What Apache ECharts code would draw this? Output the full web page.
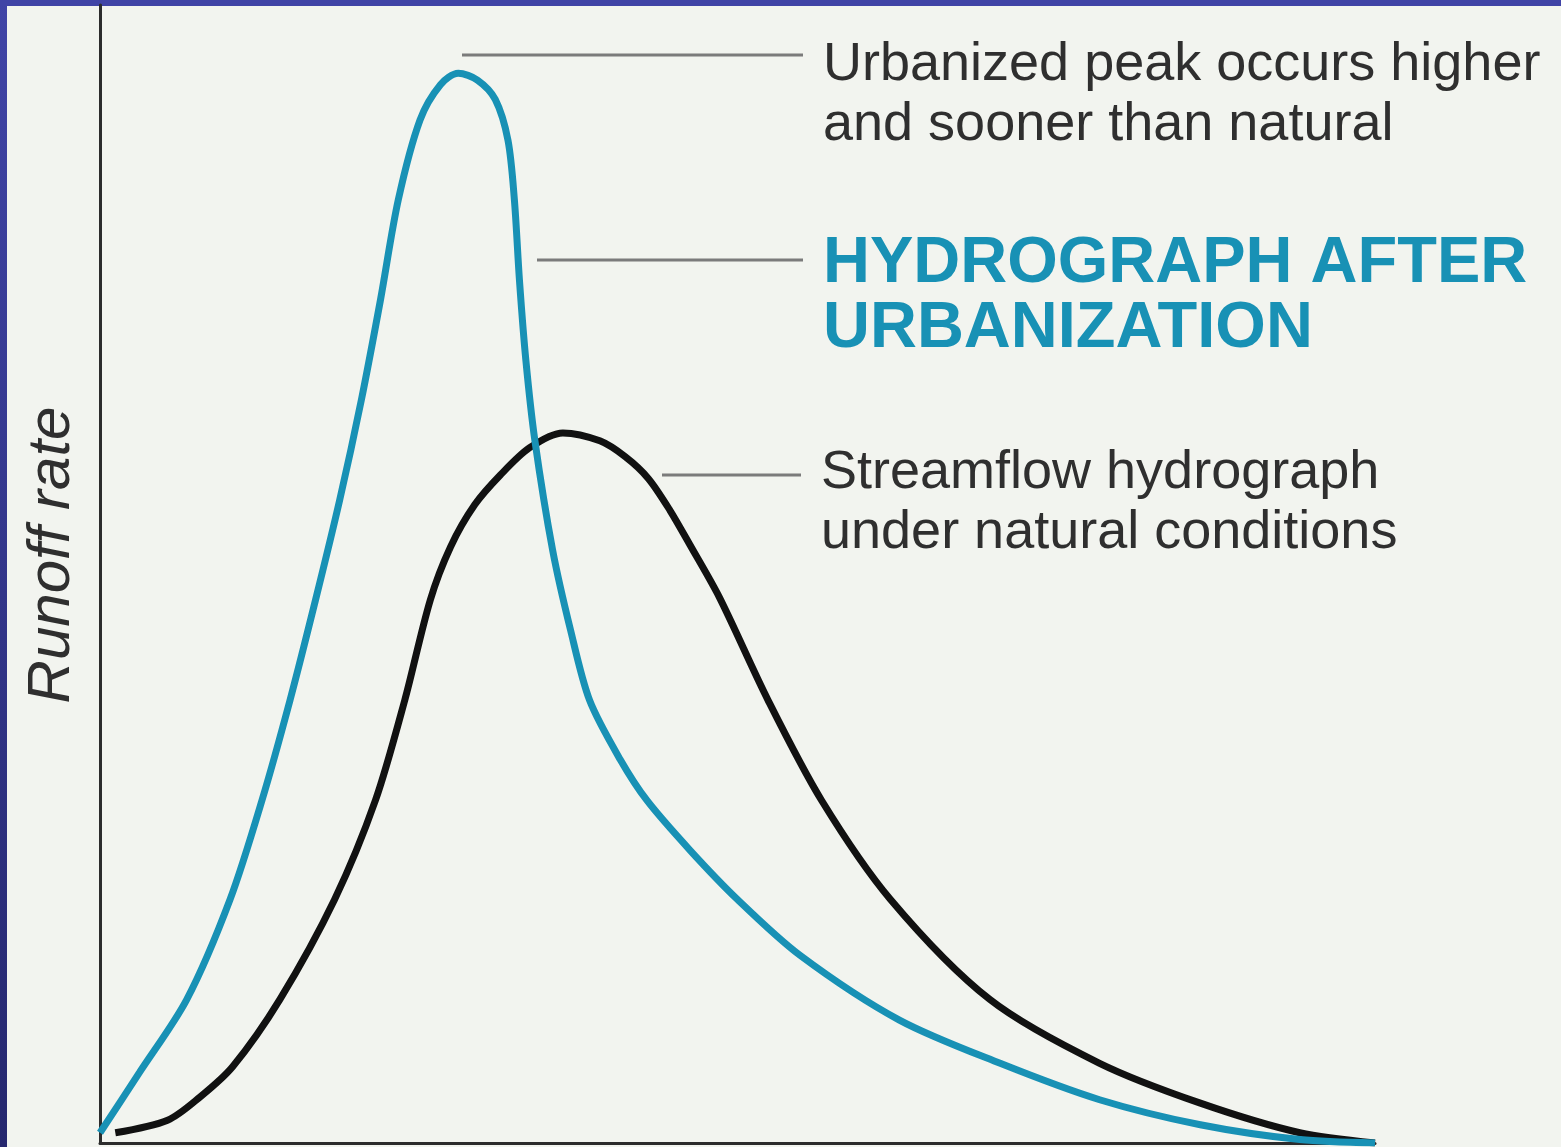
<!DOCTYPE html>
<html>
<head>
<meta charset="utf-8">
<title>Hydrograph after urbanization</title>
<script src="https://cdn.jsdelivr.net/npm/echarts@6/dist/echarts.min.js"></script>
<style>
  html, body { margin: 0; padding: 0; background: #f2f4ef; }
  #chart { width: 1561px; height: 1147px; }
</style>
</head>
<body>
<div id="chart"></div>
<script>
// time (0-100) and runoff rate (0-100)
const timeUrban = [0, 3.1, 6.8, 10.2, 12.7, 14.9, 16.9, 18.8, 20.5, 22.0, 23.4, 25.1, 26.7, 28.1, 29.6, 31.0, 32.0, 32.5, 32.9, 33.4, 34.1, 35.5, 36.9, 38.4, 40.8, 42.9, 46.3, 50.0, 54.9, 62.7, 70.6, 78.4, 86.3, 94.1, 100]
const runoffUrban = [0.9, 6.2, 12.6, 21.4, 30.1, 38.9, 47.7, 56.5, 65.3, 74.1, 82.9, 89.9, 93.0, 94.0, 93.4, 91.7, 88.1, 82.9, 75.8, 68.8, 61.8, 52.1, 45.1, 38.9, 33.7, 30.1, 25.7, 21.4, 16.5, 10.8, 7.0, 3.8, 1.6, 0.3, 0]

const timeNatural = [1.2, 5.3, 7.8, 10.4, 14.1, 18.4, 21.6, 23.9, 25.9, 27.5, 29.4, 31.4, 33.7, 36.3, 39.2, 41.2, 43.0, 44.7, 46.3, 48.6, 52.4, 56.6, 62.0, 69.8, 78.4, 86.3, 94.1, 100]
const runoffNatural = [0.9, 2.0, 4.0, 6.7, 12.6, 21.4, 30.1, 38.9, 47.7, 52.4, 56.1, 58.7, 61.1, 62.4, 61.7, 60.3, 58.4, 55.6, 52.5, 47.9, 38.9, 30.1, 21.4, 12.6, 7.0, 3.5, 0.9, 0]

const labelPeak = 'Urbanized peak occurs higher\nand sooner than natural'
const labelUrban = 'HYDROGRAPH AFTER\nURBANIZATION'
const labelNatural = 'Streamflow hydrograph\nunder natural conditions'

const teal = '#1891b5'
const leaderColor = '#7b7b7b'
const textColor = '#2f2f2f'

function pairs(xs, ys) {
  return xs.map((x, i) => [x, ys[i]])
}

const chart = echarts.init(document.getElementById('chart'))

chart.setOption({
  backgroundColor: '#f2f4ef',
  animation: false,
  grid: {
    left: 100,
    right: 186,
    top: 5,
    bottom: 4,
    outerBoundsMode: 'none'
  },
  xAxis: {
    type: 'value',
    min: 0,
    max: 100,
    axisLine: { show: true, lineStyle: { color: '#2c2c2c', width: 3 } },
    axisTick: { show: false },
    axisLabel: { show: false },
    splitLine: { show: false }
  },
  yAxis: {
    type: 'value',
    min: 0,
    max: 100,
    name: 'Runoff rate',
    nameLocation: 'middle',
    nameRotate: 90,
    nameGap: 18,
    nameTextStyle: {
      fontFamily: 'Liberation Sans',
      fontStyle: 'italic',
      fontSize: 60,
      color: textColor,
      padding: [0, 0, 0, 38]
    },
    axisLine: { show: true, lineStyle: { color: '#2c2c2c', width: 3 } },
    axisTick: { show: false },
    axisLabel: { show: false },
    splitLine: { show: false }
  },
  series: [
    {
      name: 'Natural',
      type: 'line',
      smooth: 0.3,
      showSymbol: false,
      lineStyle: { color: '#111', width: 7 },
      data: pairs(timeNatural, runoffNatural)
    },
    {
      name: 'Urbanized',
      type: 'line',
      smooth: 0.3,
      showSymbol: false,
      lineStyle: { color: teal, width: 7 },
      data: pairs(timeUrban, runoffUrban)
    }
  ],
  graphic: [
    // slide border
    {
      type: 'rect',
      shape: { x: 0, y: 0, width: 7, height: 1147 },
      style: {
        fill: new echarts.graphic.LinearGradient(0, 0, 0, 1, [
          { offset: 0, color: '#4044a6' },
          { offset: 1, color: '#25276e' }
        ])
      }
    },
    {
      type: 'rect',
      shape: { x: 0, y: 0, width: 1561, height: 6 },
      style: { fill: '#4044a6' }
    },
    // leader lines
    {
      type: 'line',
      shape: { x1: 462, y1: 55, x2: 803, y2: 55 },
      style: { stroke: leaderColor, lineWidth: 3 }
    },
    {
      type: 'line',
      shape: { x1: 537, y1: 260, x2: 803, y2: 260 },
      style: { stroke: leaderColor, lineWidth: 3 }
    },
    {
      type: 'line',
      shape: { x1: 662, y1: 475, x2: 801, y2: 475 },
      style: { stroke: leaderColor, lineWidth: 3 }
    },
    // annotations
    {
      type: 'text',
      left: 823,
      top: 35,
      style: {
        text: labelPeak,
        fontFamily: 'Liberation Sans',
        fontSize: 54,
        lineHeight: 60,
        fill: textColor
      }
    },
    {
      type: 'text',
      left: 823,
      top: 232,
      style: {
        text: labelUrban,
        fontFamily: 'Liberation Sans',
        fontWeight: 'bold',
        fontSize: 65,
        lineHeight: 65,
        fill: teal
      }
    },
    {
      type: 'text',
      left: 821,
      top: 443,
      style: {
        text: labelNatural,
        fontFamily: 'Liberation Sans',
        fontSize: 54,
        lineHeight: 60,
        fill: textColor
      }
    }
  ]
})
</script>
</body>
</html>
